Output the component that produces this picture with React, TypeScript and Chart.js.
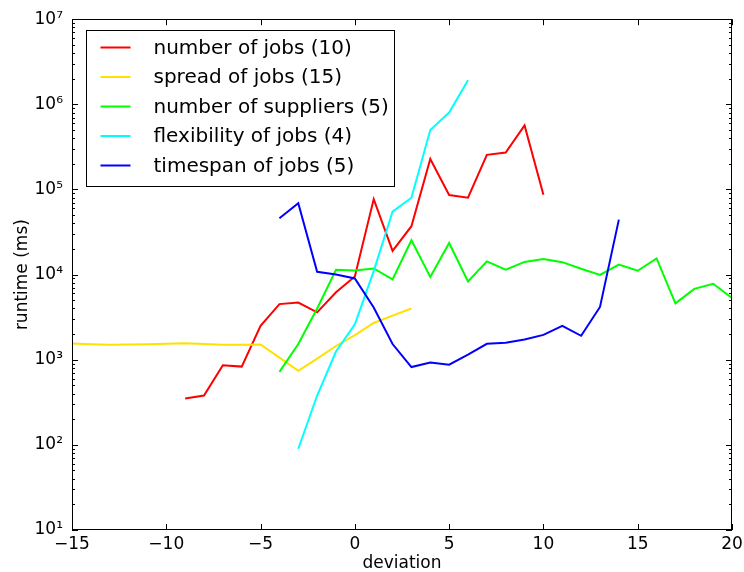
import { useEffect, useRef } from 'react';
import { Chart, registerables } from 'chart.js';

Chart.register(...registerables);

// ---- data ----
const jobsX = [-9, -8, -7, -6, -5, -4, -3, -2, -1, 0, 1, 2, 3, 4, 5, 6, 7, 8, 9, 10];
const jobsY = [350, 380, 860, 830, 2500, 4500, 4700, 3600, 6200, 9500, 77000, 19000, 37000, 228000, 86000, 80000, 255000, 272000, 565000, 86500];

const spreadX = [-15, -14, -13, -12, -11, -10, -9, -8, -7, -6, -5, -4, -3, -2, -1, 0, 1, 2, 3];
const spreadY = [1550, 1520, 1500, 1510, 1520, 1540, 1560, 1530, 1500, 1500, 1510, 1060, 740, 1030, 1450, 1950, 2700, 3300, 4000];

const suppliersX = [-4, -3, -2, -1, 0, 1, 2, 3, 4, 5, 6, 7, 8, 9, 10, 11, 12, 13, 14, 15, 16, 17, 18, 19, 20];
const suppliersY = [720, 1530, 4000, 11400, 11200, 11800, 8800, 25300, 9400, 23500, 8300, 14300, 11400, 14100, 15200, 14000, 11700, 9900, 13100, 11100, 15500, 4600, 6800, 7800, 5300];

const flexX = [-3, -2, -1, 0, 1, 2, 3, 4, 5, 6];
const flexY = [90, 380, 1250, 2600, 11000, 55000, 80000, 500000, 800000, 1920000];

const spanX = [-4, -3, -2, -1, 0, 1, 2, 3, 4, 5, 6, 7, 8, 9, 10, 11, 12, 13, 14];
const spanY = [45800, 69000, 10800, 10000, 9000, 4100, 1530, 820, 930, 875, 1150, 1540, 1580, 1730, 1960, 2500, 1910, 4170, 44200];

const seriesLabels = [
  'number of jobs (10)',
  'spread of jobs (15)',
  'number of suppliers (5)',
  'flexibility of jobs (4)',
  'timespan of jobs (5)',
];
const seriesColors = ['#ff0000', '#ffe000', '#00ff00', '#00ffff', '#0000ff'];

const xTickValues = [-15, -10, -5, 0, 5, 10, 15, 20];
const yTickValues = [10, 100, 1000, 10000, 100000, 1000000, 10000000];
const yTickLabels = ['10\u00b9', '10\u00b2', '10\u00b3', '10\u2074', '10\u2075', '10\u2076', '10\u2077'];

const FONT = 'DejaVu Sans';

const toPoints = (xs: number[], ys: number[]) => xs.map((x, i) => ({ x, y: ys[i] }));

const mplPlugin = {
  id: 'mplFrame',
  afterDatasetsDraw(chart: any) {
    const { ctx, chartArea: a, scales } = chart;
    const xs = scales.x;
    const ys = scales.y;
    ctx.save();
    ctx.strokeStyle = '#000';
    ctx.lineWidth = 1;
    ctx.beginPath();
    for (const v of xTickValues) {
      const px = Math.round(xs.getPixelForValue(v)) + 0.5;
      ctx.moveTo(px, a.bottom);
      ctx.lineTo(px, a.bottom - 6);
      ctx.moveTo(px, a.top);
      ctx.lineTo(px, a.top + 6);
    }
    for (let e = 1; e <= 7; e++) {
      for (let m = 1; m <= 9; m++) {
        const v = m * Math.pow(10, e);
        if (v > 1e7 + 1) break;
        const py = Math.round(ys.getPixelForValue(v)) + 0.5;
        const len = m === 1 ? 6 : 3;
        ctx.moveTo(a.left, py);
        ctx.lineTo(a.left + len, py);
        ctx.moveTo(a.right, py);
        ctx.lineTo(a.right - len, py);
      }
    }
    ctx.stroke();
    ctx.strokeRect(Math.round(a.left) + 0.5, Math.round(a.top) + 0.5, Math.round(a.right - a.left) - 1, Math.round(a.bottom - a.top) - 1);

    // legend (matplotlib style, upper left inside axes)
    const bx = Math.round(a.left) + 14.5;
    const by = Math.round(a.top) + 11.5;
    const bw = 308;
    const bh = 156;
    ctx.fillStyle = '#fff';
    ctx.fillRect(bx, by, bw, bh);
    ctx.strokeStyle = '#000';
    ctx.lineWidth = 1;
    ctx.strokeRect(bx, by, bw, bh);
    ctx.font = `20px '${FONT}'`;
    ctx.textBaseline = 'middle';
    ctx.textAlign = 'left';
    chart.data.datasets.forEach((ds: any, i: number) => {
      const ry = by + 17 + i * 29.5;
      ctx.strokeStyle = ds.borderColor;
      ctx.lineWidth = 2;
      ctx.beginPath();
      ctx.moveTo(bx + 14, ry);
      ctx.lineTo(bx + 44, ry);
      ctx.stroke();
      ctx.fillStyle = '#000';
      ctx.fillText(ds.label, bx + 67, ry + 1);
    });
    ctx.restore();
  },
};

export default function App() {
  const ref = useRef<HTMLCanvasElement>(null);

  useEffect(() => {
    document.body.style.margin = '0';
    Chart.defaults.font.family = FONT;
    Chart.defaults.color = '#000';
    const allX = [jobsX, spreadX, suppliersX, flexX, spanX];
    const allY = [jobsY, spreadY, suppliersY, flexY, spanY];
    const chart = new Chart(ref.current as HTMLCanvasElement, {
      type: 'line',
      data: {
        datasets: seriesLabels.map((label, i) => ({
          label,
          data: toPoints(allX[i], allY[i]),
          borderColor: seriesColors[i],
          backgroundColor: seriesColors[i],
          borderWidth: 2,
          pointRadius: 0,
          tension: 0,
          fill: false,
          order: seriesLabels.length - 1 - i,
        })),
      },
      options: {
        responsive: false,
        animation: false,
        layout: { padding: { top: 17, right: 12, left: 0, bottom: 0 } },
        plugins: { legend: { display: false }, tooltip: { enabled: false } },
        scales: {
          x: {
            type: 'linear',
            min: -15,
            max: 20,
            grid: { display: false, drawTicks: false },
            border: { display: false },
            ticks: {
              stepSize: 5,
              color: '#000',
              font: { size: 17 },
              padding: 4,
              maxRotation: 0,
              autoSkip: false,
              callback: (v: any) => String(v).replace('-', '\u2212'),
            },
            title: { display: true, text: 'deviation', color: '#000', font: { size: 17 }, padding: { top: 0, bottom: -2 } },
            afterFit: (s: any) => {
              s.height = 42;
              s.paddingLeft = 0;
              s.paddingRight = 0;
            },
          },
          y: {
            type: 'logarithmic',
            min: 10,
            max: 1e7,
            grid: { display: false, drawTicks: false },
            border: { display: false },
            afterBuildTicks: (s: any) => {
              s.ticks = yTickValues.map((v) => ({ value: v }));
            },
            ticks: {
              color: '#000',
              font: { size: 17 },
              padding: 9,
              autoSkip: false,
              callback: (_v: any, i: number) => yTickLabels[i],
            },
            title: { display: true, text: 'runtime (ms)', color: '#000', font: { size: 17 }, padding: { top: 12, bottom: 0 } },
            afterFit: (s: any) => {
              s.width = 72;
            },
          },
        },
      },
      plugins: [mplPlugin],
    } as any);
    return () => chart.destroy();
  }, []);

  return (
    <div style={{ width: 744, height: 572 }}>
      <canvas ref={ref} width={744} height={572} style={{ display: 'block', width: 744, height: 572 }} />
    </div>
  );
}
